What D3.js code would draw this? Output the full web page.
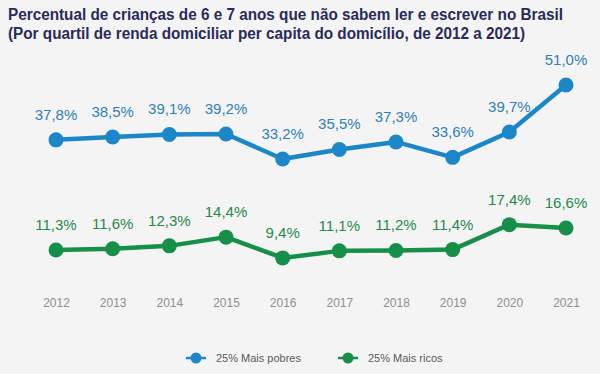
<!DOCTYPE html>
<html>
<head>
<meta charset="utf-8">
<script src="https://cdn.jsdelivr.net/npm/d3@7"></script>
<style>
  body { margin: 0; background: #f4f4f4; }
  svg { display: block; font-family: "Liberation Sans", Arial, sans-serif; }
</style>
</head>
<body>
<div id="chart"></div>
<script>
// data
var years = [2012, 2013, 2014, 2015, 2016, 2017, 2018, 2019, 2020, 2021];
var pobres = [37.8, 38.5, 39.1, 39.2, 33.2, 35.5, 37.3, 33.6, 39.7, 51.0];
var ricos = [11.3, 11.6, 12.3, 14.4, 9.4, 11.1, 11.2, 11.4, 17.4, 16.6];
var seriesNames = ["25% Mais pobres", "25% Mais ricos"];
var titleLines = [
  "Percentual de crianças de 6 e 7 anos que não sabem ler e escrever no Brasil",
  "(Por quartil de renda domiciliar per capita do domicílio, de 2012 a 2021)"
];

var w = 600, h = 374;
var blue = "#1b87c9", green = "#169048";

var svg = d3.select("#chart").append("svg")
  .attr("width", w)
  .attr("height", h);

svg.append("rect").attr("width", w).attr("height", h).attr("fill", "#f4f4f4");

var titleWidths = [555, 517];
svg.selectAll("text.title")
  .data(titleLines)
  .enter().append("text")
  .attr("class", "title")
  .attr("x", 8)
  .attr("y", function(d, i) { return 20 + i * 19; })
  .attr("fill", "#2b2a5c")
  .attr("font-size", 16)
  .attr("font-weight", "bold")
  .attr("textLength", function(d, i) { return titleWidths[i]; })
  .attr("lengthAdjust", "spacingAndGlyphs")
  .text(function(d) { return d; });

var x = d3.scalePoint().domain(years).range([56, 566]);
var y = d3.scaleLinear().domain([0, 51]).range([297, 85]);

var fmt = function(v) { return v.toFixed(1).replace(".", ",") + "%"; };

// year axis, no line, no ticks
var xAxis = svg.append("g")
  .attr("transform", "translate(0,298)")
  .call(d3.axisBottom(x).tickSize(0).tickPadding(0));
xAxis.select(".domain").remove();
xAxis.selectAll("text")
  .attr("fill", "#8f8f8f")
  .attr("font-size", 12)
  .attr("font-family", "Liberation Sans, Arial, sans-serif");

var series = [
  { name: seriesNames[0], values: pobres, color: blue, label: "#2f80b8" },
  { name: seriesNames[1], values: ricos, color: green, label: "#1e8a4c" }
];

var line = d3.line()
  .x(function(d, i) { return x(years[i]); })
  .y(function(d) { return y(d); });

series.forEach(function(s) {
  svg.append("path")
    .datum(s.values)
    .attr("fill", "none")
    .attr("stroke", s.color)
    .attr("stroke-width", 4.5)
    .attr("stroke-linejoin", "round")
    .attr("d", line);

  svg.selectAll(null)
    .data(s.values)
    .enter().append("circle")
    .attr("cx", function(d, i) { return x(years[i]); })
    .attr("cy", function(d) { return y(d); })
    .attr("r", 7.5)
    .attr("fill", s.color);

  svg.selectAll(null)
    .data(s.values)
    .enter().append("text")
    .attr("x", function(d, i) { return x(years[i]); })
    .attr("y", function(d) { return y(d) - 20; })
    .attr("text-anchor", "middle")
    .attr("fill", s.label)
    .attr("font-size", 15)
    .text(fmt);
});

// legend
var legend = svg.selectAll("g.legend")
  .data(series)
  .enter().append("g")
  .attr("class", "legend")
  .attr("transform", function(d, i) { return "translate(" + (196 + i * 152) + ",358)"; });

legend.append("line")
  .attr("x1", -10).attr("x2", 10)
  .attr("stroke", function(d) { return d.color; })
  .attr("stroke-width", 2.5);
legend.append("circle")
  .attr("r", 5.5)
  .attr("fill", function(d) { return d.color; });
legend.append("text")
  .attr("x", 20)
  .attr("y", 4)
  .attr("fill", "#5a5a5a")
  .attr("font-size", 11)
  .text(function(d) { return d.name; });
</script>
</body>
</html>
